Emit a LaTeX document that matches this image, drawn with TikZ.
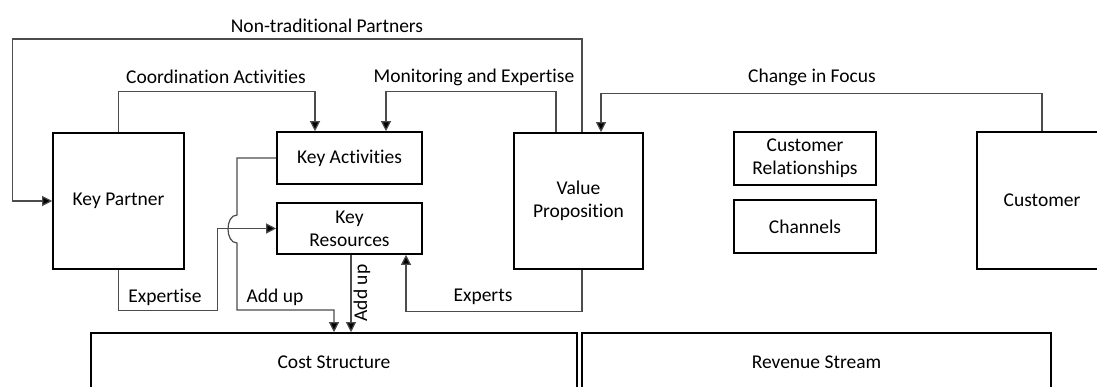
\documentclass[tikz,border=0pt]{standalone}
\usepackage{fontspec}
\setmainfont{Carlito}[Ligatures={NoCommon}]
\usetikzlibrary{arrows.meta,calc}
\begin{document}
\begin{tikzpicture}[x=1pt,y=-1pt,
  box/.style={draw=black,line width=1.6pt,inner sep=0pt,align=center,font=\fontsize{19.5}{23}\selectfont},
  conn/.style={draw=black!70,line width=1.2pt},
  arr/.style={conn,-{Triangle[length=10pt,width=10pt,fill=black]}},
  lbl/.style={inner sep=0pt,font=\fontsize{19.5}{23}\selectfont}]
\clip (0,0) rectangle (1097,387);
\fill[white] (0,0) rectangle (1097,387);
% boxes
\node[box,minimum width=131pt,minimum height=136pt] (kp) at (118.5,201) {Key Partner};
\node[box,minimum width=145pt,minimum height=52pt] (ka) at (349.5,158) {Key Activities};
\node[box,minimum width=145pt,minimum height=51pt] (kr) at (349.5,228.5) {Key\\Resources};
\node[box,minimum width=129pt,minimum height=136pt] (vp) at (578.5,201) {Value\\Proposition};
\node[box,minimum width=142pt,minimum height=53pt] (cr) at (805,158.5) {Customer\\Relationships};
\node[box,minimum width=142pt,minimum height=53pt] (ch) at (805,226.5) {Channels};
\node[box,minimum width=130pt,minimum height=137pt] (cu) at (1042,200.5) {Customer};
\node[box,minimum width=486pt,minimum height=58pt] (cs) at (334,362) {Cost Structure};
\node[box,minimum width=469pt,minimum height=58pt] (rs) at (816.5,362) {Revenue Stream};
% jump coordinates
\coordinate (jt) at (237,215);
\coordinate (jb) at (237,243);
% connectors
\draw[arr] ([xshift=3.5pt]vp.north) |- ($(kp.west)+(-40,-162)$) |- (kp.west);
\draw[arr] (kp.north) -- ++(0,-41) -| ([xshift=-34.5pt]ka.north);
\draw[arr] ([xshift=-22.5pt]vp.north) -- ++(0,-41) -| ([xshift=36.5pt]ka.north);
\draw[arr] (cu.north) -- ++(0,-38) -| ([xshift=22.5pt]vp.north);
\draw[arr] (kp.south) -- ++(0,41) -| ($(kr.west)+(-59,0)$) -- (kr.west);
\draw[arr] (ka.west) -| (jt) .. controls +(-12,0) and +(-12,0) .. (jb) -- ++(0,67) -| (cs.north);
\draw[arr] ([xshift=1.5pt]kr.south) -- ([xshift=17pt]cs.north);
\draw[arr] ([xshift=3.5pt]vp.south) -- ++(0,42) -| ([xshift=56.5pt]kr.south);
% labels
\node[lbl] (l1) at (327,26) {Non-traditional Partners};
\node[lbl] (l2) at (216,77) {Coordination Activities};
\node[lbl] (l3) at (474,77) {Monitoring and Expertise};
\node[lbl] (l4) at (812,77) {Change in Focus};
\node[lbl] (l5) at (165,297) {Expertise};
\node[lbl] (l6) at (275,297) {Add up};
\node[lbl,rotate=90] (l7) at (362,293) {Add up};
\node[lbl] (l8) at (483,297) {Experts};
\end{tikzpicture}
\end{document}
